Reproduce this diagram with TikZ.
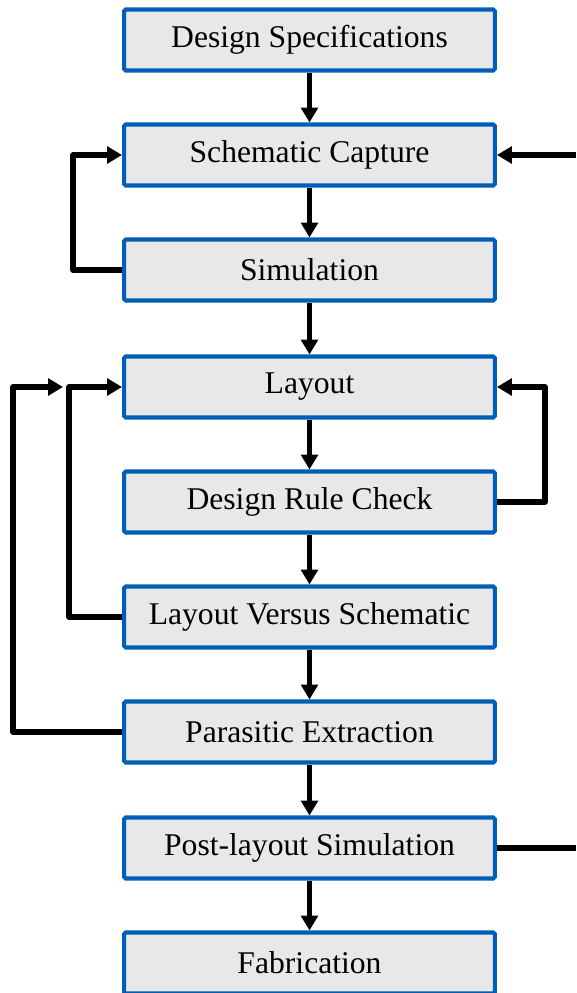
\documentclass[tikz,border=0pt]{standalone}
\usepackage{fontspec}
\setmainfont{LiberationSerif}[Extension=.ttf,UprightFont=*-Regular,BoldFont=*-Bold]
\usepackage{tikz}
\usetikzlibrary{arrows.meta}

\definecolor{stageblue}{RGB}{0,94,184}
\definecolor{stagegrey}{RGB}{232,232,232}

\begin{document}
\begin{tikzpicture}[x=0.02cm,y=-0.02cm,
	stage/.style={draw=stageblue,line width=2.3pt,fill=stagegrey,rounded corners=1pt,
		minimum width=7.42cm,minimum height=1.22cm,inner sep=0pt,
		font=\fontsize{18}{21}\selectfont},
	flow/.style={line width=3pt,line join=round,-{Triangle[length=8.5pt,width=9.5pt]}},
	back/.style={line width=3pt,line join=round}]
\useasboundingbox (0,0) rectangle (576,993);

%stages
\foreach \y/\name/\txt in {40/spec/Design Specifications,
	155/sch/Schematic Capture,
	270/sim/Simulation,
	387/lay/Layout,
	502/drc/Design Rule Check,
	617/lvs/Layout Versus Schematic,
	732/pex/Parasitic Extraction,
	848/pls/Post-layout Simulation,
	963/fab/Fabrication}
	\node[stage] (\name) at (309.5,\y) {\txt};

%main flow
\draw[flow] (spec) -- (sch);
\draw[flow] (sch) -- (sim);
\draw[flow] (sim) -- (lay);
\draw[flow] (lay) -- (drc);
\draw[flow] (drc) -- (lvs);
\draw[flow] (lvs) -- (pex);
\draw[flow] (pex) -- (pls);
\draw[flow] (pls) -- (fab);

%loops
\coordinate (pexend) at (63,387);
\coordinate (edgesch) at (576,155);
\coordinate (edgepls) at (576,848);
\draw[flow] (sim.west) -- ++(-49,0) |- (sch.west);
\draw[flow] (drc.east) -- ++(48,0) |- (lay.east);
\draw[flow] (lvs.west) -- ++(-53,0) |- (lay.west);
\draw[flow] (pex.west) -- ++(-109,0) |- (pexend);
\draw[flow] (edgesch) -- (sch.east);
\draw[back] (pls.east) -- (edgepls);
\end{tikzpicture}
\end{document}
